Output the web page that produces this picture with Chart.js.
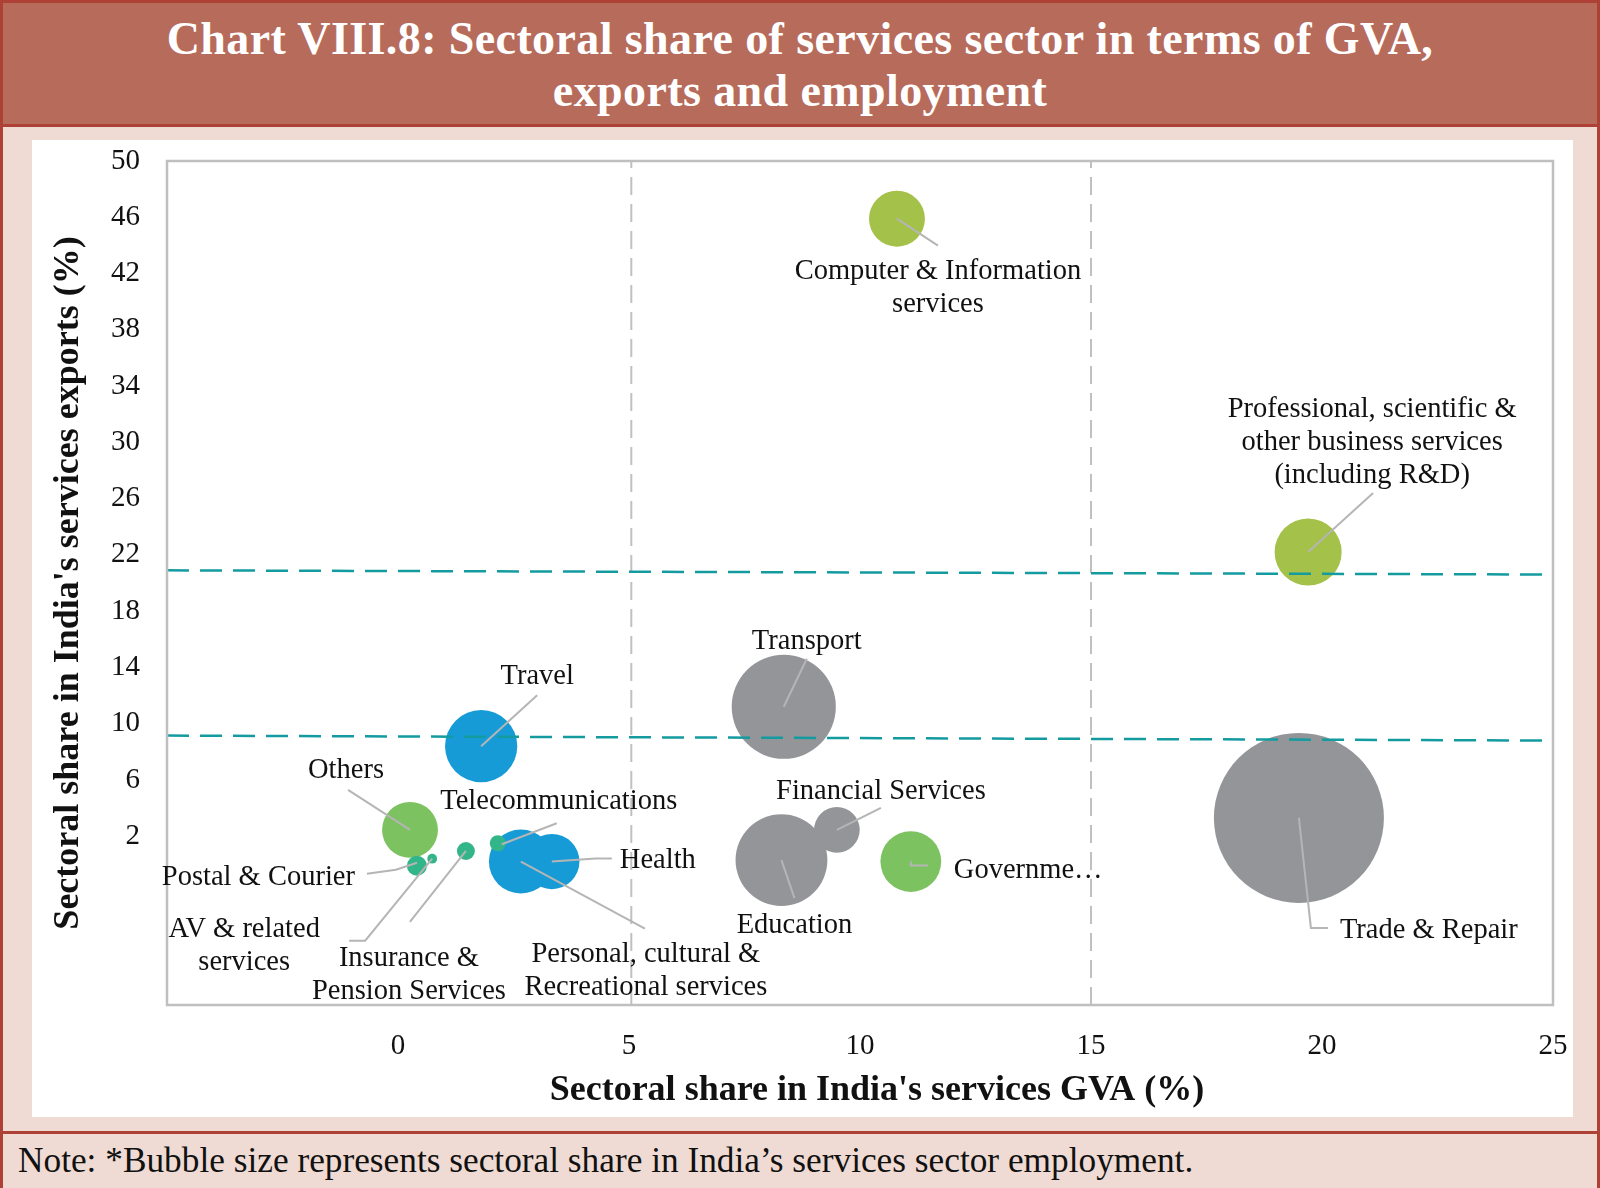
<!DOCTYPE html>
<html>
<head>
<meta charset="utf-8">
<script src="https://cdn.jsdelivr.net/npm/chart.js@4.4.1/dist/chart.umd.min.js"></script>
<style>
  html, body { margin: 0; padding: 0; }
  body { width: 1600px; height: 1188px; overflow: hidden; background: #efdbd3; position: relative; }
  #titlebar {
    position: absolute; left: 0; top: 0; width: 1594px; height: 111px;
    background: #b76b5b; border: 3px solid #ad4136;
    color: #fff; font-family: "Liberation Serif", serif; font-weight: bold;
    font-size: 46px; letter-spacing: 0.4px; line-height: 52px; text-align: center;
    padding-top: 10px; box-sizing: content-box;
  }
  #edge { position: absolute; left: 0; top: 0; width: 3px; height: 1188px; background: #ad4136; }
  #edge2 { position: absolute; right: 0; top: 0; width: 3px; height: 1188px; background: #ad4136; }
  #panel { position: absolute; left: 32px; top: 140px; width: 1541px; height: 977px; background: #fff; }
  #rule { position: absolute; left: 0; top: 1131px; width: 1600px; height: 3px; background: #ad4136; }
  #note {
    position: absolute; left: 18px; top: 1141px; white-space: nowrap;
    font-family: "Liberation Serif", serif; font-size: 35.3px; color: #111;
  }
</style>
</head>
<body>
<div id="titlebar">Chart VIII.8: Sectoral share of services sector in terms of GVA,<br>exports and employment</div>
<div id="edge"></div><div id="edge2"></div>
<div id="panel"><canvas id="chart" width="1541" height="977"></canvas></div>
<div id="rule"></div>
<div id="note">Note: *Bubble size represents sectoral share in India’s services sector employment.</div>

<script>
// sectors, in the same order in every array
const sectors = [
  "Computer & Information services",
  "Professional, scientific & other business services (including R&D)",
  "Trade & Repair",
  "Transport",
  "Education",
  "Financial Services",
  "Government",
  "Travel",
  "Others",
  "Personal, cultural & Recreational services",
  "Health",
  "Telecommunications",
  "Insurance & Pension Services",
  "Postal & Courier",
  "AV & related services"
];
// x: share in services GVA (%)
const gvaShare = [10.8, 19.7, 19.5, 8.35, 8.3, 9.5, 11.1, 1.8, 0.26, 2.66, 3.33, 2.16, 1.47, 0.41, 0.74];
// y: share in services exports (%)
const exportShare = [45.9, 22.2, 3.3, 11.2, 0.3, 2.45, 0.2, 8.4, 2.45, 0.2, 0.2, 1.5, 0.95, -0.1, 0.4];
// bubble size: share in services employment (%)
const employmentShare = [3.9, 5.6, 36, 13.5, 10.5, 2.6, 4.6, 6.5, 3.9, 5.1, 3.8, 0.32, 0.4, 0.5, 0.12];

// dashed reference lines
const exportLineHigh = [20.9, 20.6];   // at x = -5 and x = 25
const exportLineLow = [9.15, 8.8];
const gvaLines = [5.05, 15];

const xTicks = [-5, 0, 5, 10, 15, 20, 25];
const xTitle = "Sectoral share in India's services GVA (%)";
const yTitle = "Sectoral share in India's services exports (%)";

// styles
const bubbleColors = ["#a4c14a", "#a4c14a", "#939598", "#939598", "#939598", "#939598", "#7cc261",
  "#169bd7", "#7cc261", "#169bd7", "#169bd7", "#33b58a", "#33b58a", "#33b58a", "#33b58a"];
const maxR = 85;

// callout layout (pixel offsets from each bubble centre)
const callouts = [
  { lines: ["Computer & Information", "services"], align: "center", dx: 41, dy: 50, leader: [[0,0],[41,27]] },
  { lines: ["Professional, scientific &", "other business services", "(including R&D)"], align: "center", dx: 64, dy: -146, leader: [[0,0],[65,-59]] },
  { lines: ["Trade & Repair"], align: "left", dx: 41, dy: 110, leader: [[0,0],[12,110],[29,110]] },
  { lines: ["Transport"], align: "center", dx: 23, dy: -68, leader: [[0,0],[23,-48]] },
  { lines: ["Education"], align: "center", dx: 13, dy: 62, leader: [[0,0],[13,38]] },
  { lines: ["Financial Services"], align: "center", dx: 44, dy: -41, leader: [[0,0],[44,-22]] },
  { lines: ["Governme…"], align: "left", dx: 43, dy: 6, leader: [[0,0],[0,4],[17,4]] },
  { lines: ["Travel"], align: "center", dx: 56, dy: -73, leader: [[0,0],[56,-51]] },
  { lines: ["Others"], align: "center", dx: -64, dy: -62, leader: [[0,0],[-62,-40]] },
  { lines: ["Personal, cultural &", "Recreational services"], align: "center", dx: 125, dy: 90, leader: [[0,0],[124,67]] },
  { lines: ["Health"], align: "left", dx: 68, dy: -4, leader: [[0,0],[44,-3],[60,-3]] },
  { lines: ["Telecommunications"], align: "center", dx: 61, dy: -45, leader: [[4,1],[59,-20]] },
  { lines: ["Insurance &", "Pension Services"], align: "center", dx: -57, dy: 105, leader: [[0,0],[-56,71]] },
  { lines: ["Postal & Courier"], align: "right", dx: -62, dy: 9, leader: [[0,-3],[-21,4],[-50,8]] },
  { lines: ["AV & related", "services"], align: "center", dx: -188, dy: 68, leader: [[0,0],[-67,82],[-83,82]] }
];

const maxEmp = Math.max(...employmentShare);
const bubbles = sectors.map((s, i) => ({
  x: gvaShare[i], y: exportShare[i], r: maxR * Math.sqrt(employmentShare[i] / maxEmp)
}));

const calloutPlugin = {
  id: 'callouts',
  afterDatasetsDraw(chart) {
    const ctx = chart.ctx;
    const a = chart.chartArea;
    ctx.save();
    ctx.strokeStyle = '#bfbfbf';
    ctx.lineWidth = 2.5;
    ctx.strokeRect(a.left, a.top, a.right - a.left, a.bottom - a.top);

    // x axis title, sits a little right of the plot centre as in the original
    ctx.font = 'bold 36px "Liberation Serif"';
    ctx.fillStyle = '#111';
    ctx.textAlign = 'center';
    ctx.textBaseline = 'middle';
    ctx.fillText(xTitle, (a.left + a.right) / 2 + 17, a.bottom + 86);

    const meta = chart.getDatasetMeta(4);
    ctx.font = '28.5px "Liberation Serif"';
    callouts.forEach((c, i) => {
      const el = meta.data[i];
      ctx.beginPath();
      c.leader.forEach(([dx, dy], k) => {
        if (k === 0) ctx.moveTo(el.x + dx, el.y + dy);
        else ctx.lineTo(el.x + dx, el.y + dy);
      });
      ctx.strokeStyle = '#b5b5b5';
      ctx.lineWidth = 2;
      ctx.stroke();
      ctx.fillStyle = '#111';
      ctx.textAlign = c.align;
      c.lines.forEach((t, k) => {
        ctx.fillText(t, el.x + c.dx, el.y + c.dy + 3 + k * 33);
      });
    });
    ctx.restore();
  }
};

const tickFont = { family: 'Liberation Serif', size: 29 };

new Chart(document.getElementById('chart'), {
  type: 'bubble',
  data: {
    datasets: [
      { type: 'line', data: [{ x: -5, y: exportLineHigh[0] }, { x: 25, y: exportLineHigh[1] }],
        borderColor: '#149ba0', borderWidth: 2.5, borderDash: [22, 11], pointRadius: 0, order: 0 },
      { type: 'line', data: [{ x: -5, y: exportLineLow[0] }, { x: 25, y: exportLineLow[1] }],
        borderColor: '#149ba0', borderWidth: 2.5, borderDash: [22, 11], pointRadius: 0, order: 0 },
      { type: 'line', data: [{ x: gvaLines[0], y: -10 }, { x: gvaLines[0], y: 50 }],
        borderColor: '#c0c0c0', borderWidth: 2, borderDash: [18, 9], pointRadius: 0, order: 0 },
      { type: 'line', data: [{ x: gvaLines[1], y: -10 }, { x: gvaLines[1], y: 50 }],
        borderColor: '#c0c0c0', borderWidth: 2, borderDash: [18, 9], pointRadius: 0, order: 0 },
      { label: 'Sectors', data: bubbles, backgroundColor: bubbleColors, borderWidth: 0, order: 1 }
    ]
  },
  options: {
    responsive: false,
    animation: false,
    devicePixelRatio: 1,
    events: [],
    layout: { autoPadding: false, padding: { top: 21, right: 20, left: 0, bottom: 0 } },
    plugins: { legend: { display: false }, tooltip: { enabled: false } },
    scales: {
      x: {
        type: 'linear', min: -5, max: 25,
        afterBuildTicks: s => { s.ticks = xTicks.map(v => ({ value: v })); },
        afterFit: s => { s.height = 112; s.paddingLeft = 0; s.paddingRight = 0; },
        grid: { display: false, drawTicks: false },
        border: { display: false },
        ticks: { font: tickFont, color: '#111', padding: 24, callback: v => v < 0 ? '' : v },
        title: { display: false }
      },
      y: {
        type: 'linear', min: -10, max: 50,
        ticks: { stepSize: 4, font: tickFont, color: '#111', padding: 27, callback: v => v < 0 ? '' : v },
        afterFit: s => { s.width = 135; s.paddingTop = 0; s.paddingBottom = 0; },
        grid: { display: false, drawTicks: false },
        border: { display: false },
        title: { display: true, text: yTitle, color: '#111',
          font: { family: 'Liberation Serif', size: 36, weight: 'bold' }, padding: { top: 15 } }
      }
    }
  },
  plugins: [calloutPlugin]
});
</script>
</body>
</html>
